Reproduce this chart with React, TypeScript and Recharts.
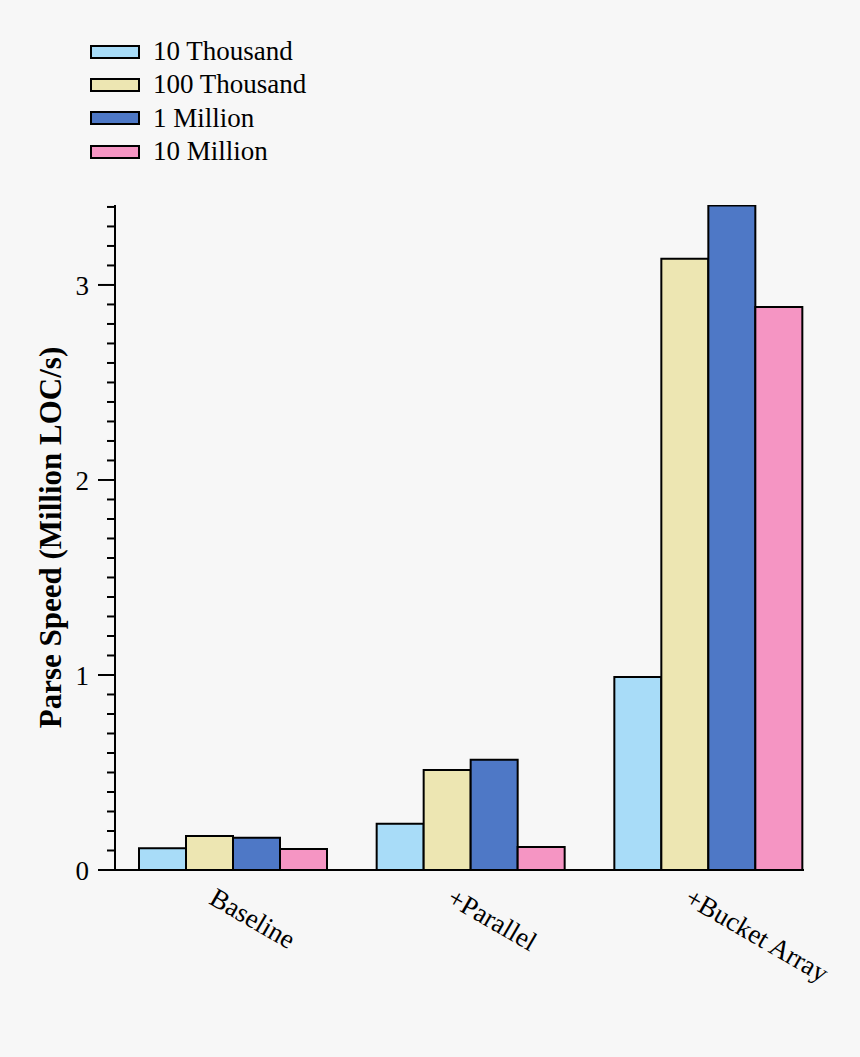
import React from 'react';
import { BarChart, Bar, XAxis, YAxis, Legend } from 'recharts';

const categories = ['Baseline', '+Parallel', '+Bucket Array'];
const tenThousand = [0.112, 0.237, 0.99];
const hundredThousand = [0.174, 0.513, 3.135];
const oneMillion = [0.166, 0.565, 3.407];
const tenMillion = [0.108, 0.118, 2.887];

const seriesNames = ['10 Thousand', '100 Thousand', '1 Million', '10 Million'];
const seriesKeys = ['k10', 'k100', 'm1', 'm10'];
const seriesColors = ['#a8dcf8', '#ede6b2', '#4e78c6', '#f595c3'];

const yTicks = [
  0, 0.1, 0.2, 0.3, 0.4, 0.5, 0.6, 0.7, 0.8, 0.9,
  1, 1.1, 1.2, 1.3, 1.4, 1.5, 1.6, 1.7, 1.8, 1.9,
  2, 2.1, 2.2, 2.3, 2.4, 2.5, 2.6, 2.7, 2.8, 2.9,
  3, 3.1, 3.2, 3.3, 3.4,
];

const data = categories.map((c, i) => ({
  name: c,
  k10: tenThousand[i],
  k100: hundredThousand[i],
  m1: oneMillion[i],
  m10: tenMillion[i],
}));

const FONT = "'Liberation Serif', 'Times New Roman', serif";

const YTick = (props: any) => {
  const { x, y, payload } = props;
  const v = Number(payload.value);
  const major = Math.abs(v - Math.round(v)) < 1e-6;
  return (
    <g>
      <line x1={x - (major ? 17 : 8)} x2={x} y1={y} y2={y} stroke="#000" strokeWidth={2} />
      {major && (
        <text x={x - 26} y={y} dy="0.36em" textAnchor="end" fontFamily={FONT} fontSize={27} fill="#000">
          {Math.round(v)}
        </text>
      )}
    </g>
  );
};

const XTick = (props: any) => {
  const { x, y, payload } = props;
  const tx = x - 25;
  const ty = y + 33;
  return (
    <text x={tx} y={ty} transform={`rotate(30, ${tx}, ${ty})`} textAnchor="start" fontFamily={FONT} fontSize={27} fill="#000">
      {payload.value}
    </text>
  );
};

const LegendContent = () => (
  <div style={{ fontFamily: FONT, fontSize: 27, color: '#000' }}>
    {seriesNames.map((n, i) => (
      <div key={n} style={{ display: 'flex', alignItems: 'center', height: 33.3 }}>
        <div style={{ width: 46, height: 10, border: '2px solid #000', background: seriesColors[i], marginRight: 13 }} />
        <span style={{ lineHeight: '27px' }}>{n}</span>
      </div>
    ))}
  </div>
);

export default function App() {
  return (
    <div style={{ position: 'absolute', left: 0, top: 0, width: 860, height: 1057, background: '#f7f7f7' }}>
      <BarChart
        width={860}
        height={1057}
        data={data}
        margin={{ top: 205, left: 55, right: 56, bottom: 157 }}
        barCategoryGap={25}
        barGap={0}
      >
        <Legend
          layout="horizontal"
          verticalAlign="middle"
          align="center"
          content={<LegendContent />}
          wrapperStyle={{ top: 35, left: 90, width: 300, height: 140 }}
        />
        <XAxis
          dataKey="name"
          height={30}
          padding={{ left: -1, right: -23 }}
          axisLine={{ stroke: '#000', strokeWidth: 2 }}
          tickLine={false}
          tickSize={0}
          tickMargin={0}
          tick={<XTick />}
          interval={0}
        />
        <YAxis
          width={60}
          domain={[0, 3.41]}
          ticks={yTicks}
          interval={0}
          allowDataOverflow
          axisLine={{ stroke: '#000', strokeWidth: 2 }}
          tickLine={false}
          tickSize={0}
          tickMargin={0}
          tick={<YTick />}
          label={{
            value: 'Parse Speed (Million LOC/s)',
            angle: -90,
            position: 'insideLeft',
            offset: 0,
            dx: -5,
            style: { fontFamily: FONT, fontSize: 31, fontWeight: 'bold', fill: '#000', textAnchor: 'middle' },
          }}
        />
        {seriesKeys.map((k, i) => (
          <Bar key={k} dataKey={k} name={seriesNames[i]} fill={seriesColors[i]} stroke="#000" strokeWidth={2} isAnimationActive={false} />
        ))}
      </BarChart>
    </div>
  );
}
